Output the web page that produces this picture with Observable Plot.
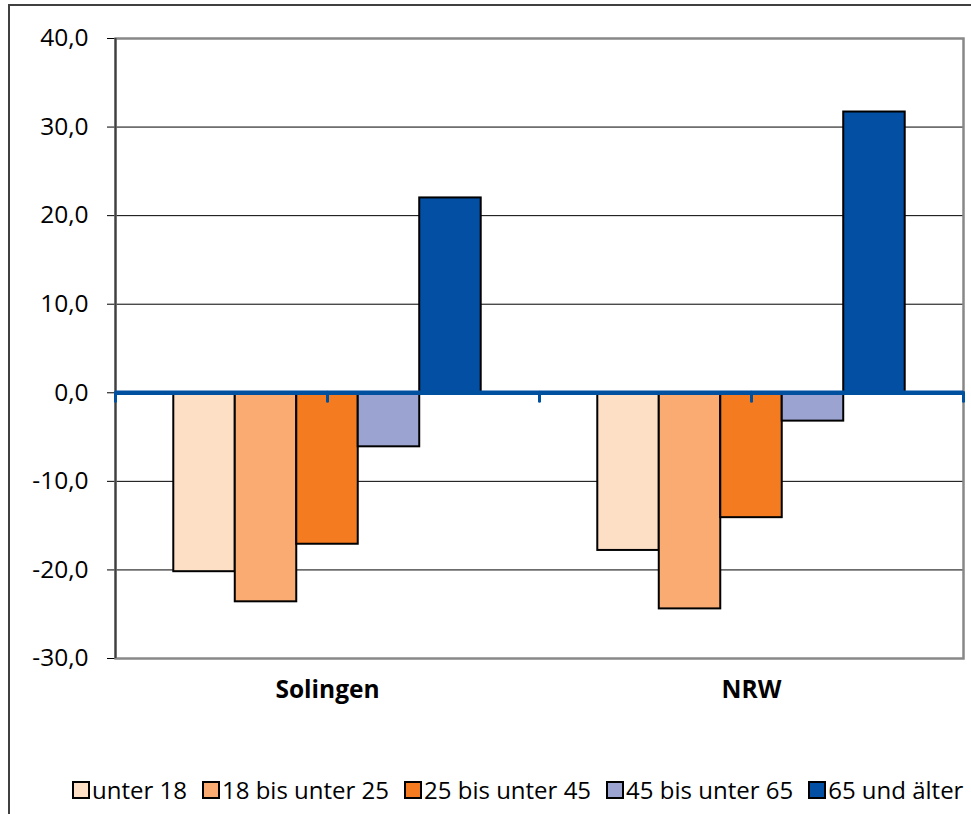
<!DOCTYPE html>
<html>
<head>
<meta charset="utf-8">
<script src="https://cdn.jsdelivr.net/npm/d3@7"></script>
<script src="https://cdn.jsdelivr.net/npm/@observablehq/plot@0.6"></script>
<style>
  html, body { margin: 0; padding: 0; background: #fff; overflow: hidden; width: 971px; height: 814px; }
  #wrap { position: relative; width: 971px; height: 814px; }
  #border { position: absolute; left: 8px; top: 4px; width: 1000px; height: 900px; border-left: 2px solid #404040; border-top: 2px solid #404040; box-sizing: border-box; }
  #chart { position: absolute; left: 0; top: 0; }
  #chart svg g[aria-label^="x-axis"] text { font-weight: bold; }
  #legend { position: absolute; left: 72px; top: 773px; display: flex; align-items: center; font-family: "Open Sans", sans-serif; font-size: 24px; color: #000; white-space: nowrap; }
  .item { display: flex; align-items: center; margin-right: 15px; }
  .sw { width: 14px; height: 14px; border: 2px solid #000; margin-right: 2px; }
</style>
</head>
<body>
<div id="wrap">
  <div id="border"></div>
  <div id="chart"></div>
  <div id="legend"></div>
</div>
<script>
const groups = ["Solingen", "NRW"];
const ages = ["unter 18", "18 bis unter 25", "25 bis unter 45", "45 bis unter 65", "65 und älter"];
const colors = ["#FDDFC6", "#F9AB71", "#F47B20", "#9BA3D0", "#024FA3"];
const solingen = [-20.2, -23.6, -17.1, -6.1, 22.0];
const nrw = [-17.8, -24.4, -14.1, -3.2, 31.7];
const yTicks = [-30, -20, -10, 0, 10, 20, 30, 40];

const seriesByGroup = [solingen, nrw];
const inner = d3.scaleBand().domain(ages).range([0, 1]).paddingInner(0).paddingOuter(0.948);
const data = [];
groups.forEach((g, gi) => {
  ages.forEach((a, ai) => {
    data.push({group: g, age: a, value: seriesByGroup[gi][ai],
      x1: gi + inner(a), x2: gi + inner(a) + inner.bandwidth()});
  });
});
const groupTicks = groups.map((g, i) => i + 0.5);
const zeroTicks = [0, 0.5, 1, 1.5, 2];

const plot = Plot.plot({
  width: 971,
  height: 720,
  marginLeft: 115,
  marginRight: 8,
  marginTop: 38,
  marginBottom: 62,
  style: {fontFamily: "Open Sans", fontSize: "24.5px", color: "#000", background: "transparent"},
  x: {domain: [0, 2], ticks: groupTicks, tickFormat: d => groups[Math.floor(d)], tickSize: 0, tickPadding: 22, label: null},
  y: {domain: [-30, 40], ticks: yTicks, tickFormat: d => d.toFixed(1).replace(".", ","), tickSize: 8, tickPadding: 19, label: null},
  color: {domain: ages, range: colors},
  marks: [
    Plot.ruleY(yTicks.filter(d => d !== 0 && d !== 40 && d !== -30), {stroke: "#000", strokeWidth: 1}),
    Plot.frame({stroke: "#888", strokeWidth: 2.5}),
    Plot.ruleX([0], {stroke: "#404040", strokeWidth: 2}),
    Plot.rectY(data, {x1: "x1", x2: "x2", y1: 0, y2: "value", fill: "age", stroke: "#000", strokeWidth: 2}),
    Plot.ruleY([0], {stroke: "#0050A0", strokeWidth: 4.5}),
    Plot.ruleX(zeroTicks, {y1: 0, y2: -1.0, stroke: "#0050A0", strokeWidth: 3, strokeLinecap: "round"})
  ]
});
document.getElementById("chart").appendChild(plot);

const legend = document.getElementById("legend");
ages.forEach((a, i) => {
  const it = document.createElement("div");
  it.className = "item";
  const sw = document.createElement("div");
  sw.className = "sw";
  sw.style.background = colors[i];
  const t = document.createElement("span");
  t.textContent = a;
  it.appendChild(sw);
  it.appendChild(t);
  legend.appendChild(it);
});
</script>
</body>
</html>
